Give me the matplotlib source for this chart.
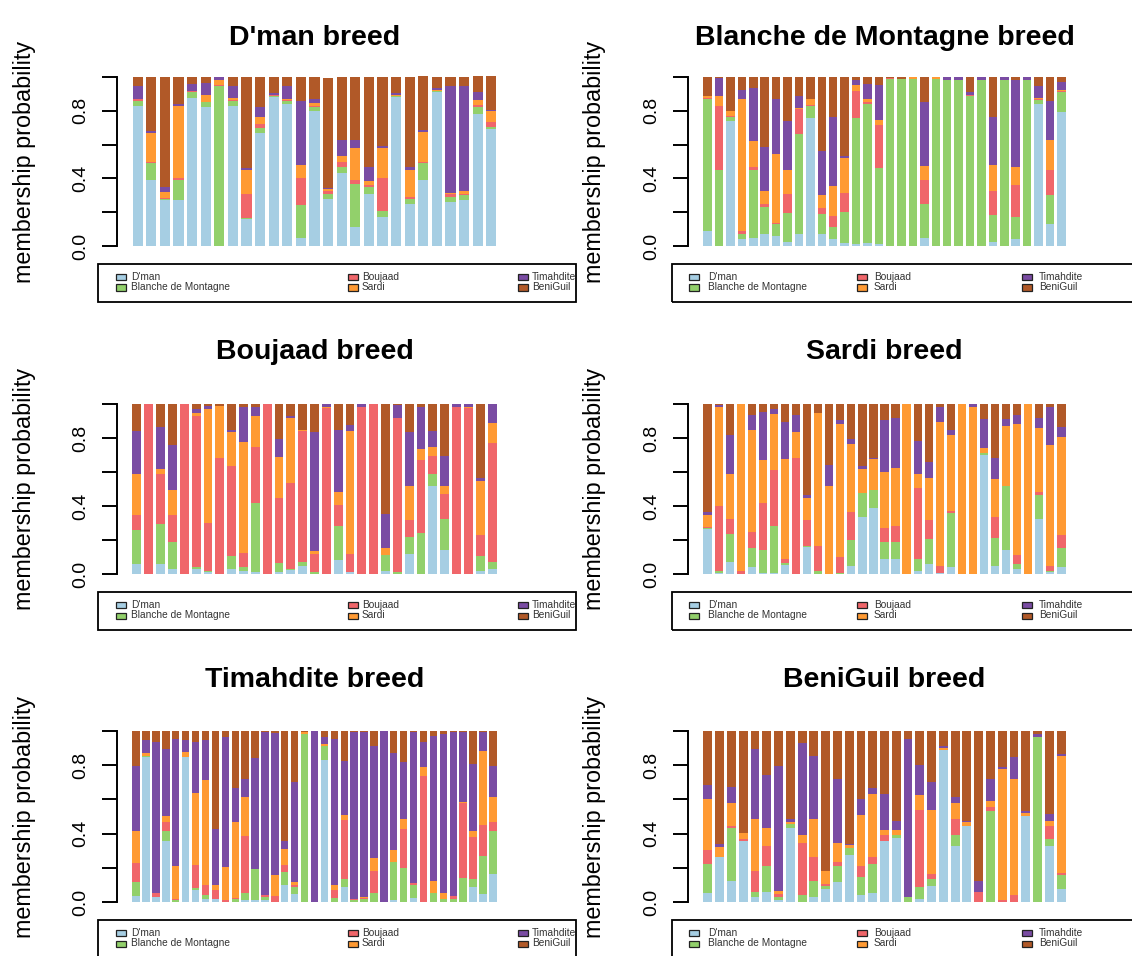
import numpy as np
import matplotlib
matplotlib.use("Agg")
import matplotlib.pyplot as plt
from matplotlib.patches import Rectangle

plt.rcParams['font.family'] = ['Liberation Sans', 'DejaVu Sans']

# ---------------- data ----------------
components = ["D'man", "Blanche de Montagne", "Boujaad", "Sardi", "Timahdite", "BeniGuil"]
colors = ["#A6CEE3", "#92D06B", "#F0666A", "#FF9A33", "#7A4CA3", "#B15928"]
titles = ["D'man breed", "Blanche de Montagne breed", "Boujaad breed",
          "Sardi breed", "Timahdite breed", "BeniGuil breed"]
ylabel_text = "membership probability"
ytick_values = [0.0, 0.2, 0.4, 0.6, 0.8, 1.0]
ytick_labels = ["0.0", "", "0.4", "", "0.8", ""]

# D'man breed (27 individuals)
dman_dman = [.83, .39, .27, .27, .875, .82, 0, .83, .16, .67, .88, .84, .05, .80, .28, .43, .115, .31, .17, .88, .25, .39, .91, .26, .27, .78, .695]
dman_blanche = [.03, .10, .01, .12, .035, .03, .945, .03, .005, .03, .008, .02, .19, .02, .03, .04, .25, .04, .04, .005, .03, .10, .008, .03, .03, .04, .008]
dman_boujaad = [.008, .01, .005, .01, .005, .005, .005, .005, .145, .02, .004, .005, .16, .008, .015, .03, .025, .01, .19, .005, .01, .005, .002, .02, .01, .015, .03]
dman_sardi = [.004, .17, .035, .43, .005, .04, .03, .01, .14, .045, .004, .005, .08, .02, .01, .035, .19, .025, .18, .005, .16, .18, .002, .005, .015, .03, .065]
dman_timahdite = [.073, .01, .03, .01, .04, .07, .02, .07, .01, .055, .01, .075, .38, .02, .01, .095, .05, .085, .01, .01, .02, .01, .015, .63, .62, .045, .005]
dman_beniguil = [.055, .32, .65, .16, .04, .035, 0, .055, .54, .18, .094, .055, .14, .13, .65, .37, .37, .53, .41, .095, .53, .32, .065, .055, .055, .096, .20]

# Blanche de Montagne breed (32 individuals)
bdm_dman = [.09, 0, .74, .04, .05, .07, .06, .025, .07, .76, .07, .04, .02, .01, .02, .01, 0, 0, 0, .05, 0, 0, 0, 0, 0, .025, 0, .04, 0, .84, .13, .79]
bdm_blanche = [.78, .45, .025, .03, .40, .16, .07, .17, .59, .07, .12, .07, .18, .75, .82, .45, .99, .99, .99, .20, .99, .985, .985, .886, .985, .16, .985, .13, .985, .025, .17, .12]
bdm_boujaad = [.005, .38, .005, .02, .02, .02, .005, .115, .15, .005, .035, .07, .115, .16, .01, .255, .005, 0, 0, .14, 0, 0, 0, .005, 0, .14, 0, .19, 0, .005, .15, .01]
bdm_sardi = [.01, .055, .03, .78, .15, .075, .41, .14, .005, .035, .075, .175, .205, .03, .02, .03, 0, 0, .01, .085, .01, 0, 0, 0, 0, .155, 0, .11, 0, .005, .18, .005]
bdm_timahdite = [.005, .11, 0, .055, .315, .26, .325, .29, .075, 0, .265, .41, .015, .035, .09, .21, 0, 0, 0, .38, 0, .015, .015, .02, .015, .285, .015, .51, .015, .07, .23, .045]
bdm_beniguil = [.11, .005, .20, .075, .065, .415, .13, .26, .11, .13, .435, .235, .465, .015, .04, .045, .005, .01, 0, .145, 0, 0, 0, .089, 0, .235, 0, .02, 0, .055, .14, .03]

# Boujaad breed (31 individuals)
bou_dman = [.06, 0, .06, .03, 0, .03, .01, 0, .03, .02, .01, 0, .01, .025, .05, 0, 0, .08, .01, 0, 0, .02, 0, .115, 0, .515, .14, 0, 0, .02, .03]
bou_blanche = [.20, 0, .235, .16, 0, .01, .01, 0, .075, .02, .41, 0, .055, .005, .02, .01, 0, .20, 0, 0, 0, .09, .01, .10, .24, .075, .185, 0, 0, .085, .04]
bou_boujaad = [.085, 1, .295, .155, 1, .89, .28, .683, .53, .085, .325, 1, .38, .505, .77, .11, .975, .125, .11, .985, 1, 0, .905, .10, .43, .105, .145, .985, .975, .125, .70]
bou_sardi = [.245, 0, .03, .15, 0, .015, .67, .307, .20, .65, .185, 0, .245, .38, .01, .015, .01, .075, .72, 0, 0, .045, 0, .20, .065, .055, .045, 0, .01, .315, .12]
bou_timahdite = [.25, 0, .245, .265, 0, .025, .02, 0, .015, .21, .05, 0, .105, .015, 0, .70, .015, .365, .035, .015, 0, .2, .08, .32, .25, .09, .18, .015, .015, .02, .11]
bou_beniguil = [.16, 0, .135, .24, 0, .03, .01, .01, .15, .015, .02, 0, .205, .07, .15, .165, 0, .155, .125, 0, 0, .645, .005, .165, .015, .16, .305, 0, 0, .435, 0]

# Sardi breed (33 individuals)
sar_dman = [.265, .005, .07, 0, .04, .005, .005, .055, 0, .16, 0, 0, 0, .05, .335, .39, .09, .09, 0, .02, .06, .005, .04, 0, 0, .70, .05, .14, .03, 0, .325, .01, .04]
sar_blanche = [.005, .015, .165, 0, .115, .135, .275, .01, 0, .005, .015, 0, .005, .15, .14, .105, .10, .10, 0, .07, .145, 0, .32, 0, 0, .01, .16, .38, .03, 0, .14, .01, .115]
sar_boujaad = [.005, .38, .09, .02, .095, .275, .33, .025, .683, .15, .15, 0, .095, .165, 0, 0, .08, .095, 0, .415, .11, .045, .01, 0, 0, 0, .125, 0, .05, 0, .02, .03, .075]
sar_sardi = [.07, .585, .265, .98, .595, .255, .33, .585, .155, .135, .785, .518, .785, .40, .14, .18, .33, .34, 1, .085, .25, .845, .45, 1, .985, .03, .225, .35, .77, 1, .375, .71, .575]
sar_timahdite = [.02, .01, .23, 0, .09, .285, .03, .22, .095, .015, 0, .126, .02, .03, .02, .01, .305, .295, 0, .19, .095, .085, .025, 0, .015, .17, .12, .04, .055, 0, .06, .22, .06]
sar_beniguil = [.635, .005, .18, 0, .065, .045, .03, .105, .067, .535, .05, .356, .095, .205, .365, .315, .095, .08, 0, .22, .34, .02, .155, 0, 0, .09, .32, .09, .065, 0, .08, .02, .135]

# Timahdite breed (37 individuals)
tim_dman = [.033, .846, .03, .354, 0, .846, .069, .016, .016, 0, 0, .01, .01, .01, 0, .098, .049, 0, 0, .831, 0, .089, 0, 0, 0, 0, .01, 0, .026, 0, 0, 0, 0, 0, .089, .049, .161]
tim_blanche = [.085, .01, 0, .059, .01, 0, .01, .023, 0, 0, .02, .045, .181, .02, 0, .075, .04, .98, 0, .084, .026, .043, .01, .02, .055, 0, .226, .197, .072, 0, .055, .02, .016, .142, .043, .221, .252]
tim_boujaad = [.108, 0, .025, .056, .01, 0, .138, .063, .053, .01, .005, .329, 0, .01, .035, .044, .013, 0, 0, 0, .043, .347, .006, .006, .128, 0, 0, .23, .014, .734, 0, 0, .017, .435, .246, .179, .055]
tim_sardi = [.187, .016, 0, .033, .193, .03, .423, .613, .033, .197, .444, .232, 0, 0, .122, .094, .016, .014, 0, .01, .03, .03, 0, .006, .073, 0, .069, .061, 0, .053, .067, .03, 0, .008, .035, .433, .148]
tim_timahdite = [.384, .073, .88, .39, .742, .069, .295, .23, .325, .758, .2, .103, .65, .955, .833, .043, .581, 0, 1, .04, .856, .313, .978, .964, .655, 1, .565, .333, .882, .148, .846, .931, .961, .409, .394, .112, .181]
tim_beniguil = [.203, .055, .065, .108, .045, .055, .065, .055, .573, .035, .331, .281, .159, .005, .01, .646, .301, .006, 0, .035, .045, .178, .006, .004, .089, 0, .13, .179, .006, .065, .032, .019, .006, .006, .193, .006, .203]

# BeniGuil breed (31 individuals)
ben_dman = [.055, .262, .124, .356, .03, .061, .012, .433, 0, .03, .075, .118, .272, .041, .055, .356, .374, 0, .016, .094, .886, .327, .443, 0, 0, 0, 0, .504, 0, .327, .075]
ben_blanche = [.167, .004, .309, 0, .031, .148, .018, .022, .039, .094, .02, .094, .045, .106, .167, 0, .016, .03, .069, .039, 0, .063, 0, 0, .531, 0, 0, 0, .965, .043, .085]
ben_boujaad = [.083, 0, .012, .014, .118, .118, .016, 0, .307, .138, .01, .02, 0, .061, .039, .033, 0, 0, .453, .033, 0, .093, 0, .061, .022, .012, .039, 0, 0, .073, .01]
ben_sardi = [.297, .055, .136, .033, .305, .106, .016, .014, .043, .222, .075, .114, .014, .299, .37, .033, .033, 0, .085, .374, .012, .098, .022, 0, .039, .768, .679, .014, 0, .031, .683]
ben_timahdite = [.083, .016, .094, 0, .413, .307, .732, .014, .541, .372, 0, .372, .01, .094, .033, .209, .049, .921, .177, .163, .014, .031, .01, .063, .126, .01, .128, .014, .02, .039, .014]
ben_beniguil = [.315, .663, .325, .597, .102, .26, .207, .518, .069, .144, .821, .281, .659, .398, .335, .368, .528, .049, .201, .295, .089, .388, .526, .876, .281, .211, .154, .469, .016, .486, .134]

panels = [
    [dman_dman, dman_blanche, dman_boujaad, dman_sardi, dman_timahdite, dman_beniguil],
    [bdm_dman, bdm_blanche, bdm_boujaad, bdm_sardi, bdm_timahdite, bdm_beniguil],
    [bou_dman, bou_blanche, bou_boujaad, bou_sardi, bou_timahdite, bou_beniguil],
    [sar_dman, sar_blanche, sar_boujaad, sar_sardi, sar_timahdite, sar_beniguil],
    [tim_dman, tim_blanche, tim_boujaad, tim_sardi, tim_timahdite, tim_beniguil],
    [ben_dman, ben_blanche, ben_boujaad, ben_sardi, ben_timahdite, ben_beniguil],
]

# ---------------- layout (pixels) ----------------
W, H = 1132, 956
fig = plt.figure(figsize=(W / 100, H / 100), dpi=100)
fig.patch.set_facecolor("white")

bar_x0 = [132, 703]
bar_x1 = [497, 1066]
y_zero = [246, 574, 902]
y_one = [77, 404, 731]
title_y = [38, 352, 680]
ylab_x = [25, 594]
legend_box_x = [(98, 576), (672, 1145)]
legend_box_top = [264, 592, 920]
legend_patch_x = [[116, 348, 518], [689, 857, 1022]]
legend_text_x = [[131, 362, 532], [708, 874, 1039]]


def fx(x):
    return x / W


def fy(y):
    return 1 - y / H


for k, series in enumerate(panels):
    row, col = k // 2, k % 2
    x0, x1 = bar_x0[col], bar_x1[col]
    span = x1 - x0
    left_px, right_px = x0 - 0.04 * span, x1 + 0.04 * span
    hgt = y_zero[row] - y_one[row]
    bot_px, top_px = y_zero[row] + 0.04 * hgt, y_one[row] - 0.04 * hgt
    ax = fig.add_axes([fx(left_px), fy(bot_px), (right_px - left_px) / W, (bot_px - top_px) / H])

    n = len(series[0])
    D = 1.2 * n - 0.2
    ax.set_xlim(0.2 - 0.04 * D, 1.2 * n + 0.04 * D)
    ax.set_ylim(-0.04, 1.04)
    xpos = 0.7 + 1.2 * np.arange(n)
    bottom = np.zeros(n)
    for vals, c in zip(series, colors):
        v = np.asarray(vals, dtype=float)
        ax.bar(xpos, v, width=0.9, bottom=bottom, align="center", color=c,
               edgecolor="none", linewidth=0)
        bottom += v

    for s in ["top", "right", "bottom"]:
        ax.spines[s].set_visible(False)
    ax.spines["left"].set_bounds(0, 1)
    ax.spines["left"].set_linewidth(1.4)
    ax.set_xticks([])
    ax.set_yticks(ytick_values)
    ax.set_yticklabels(ytick_labels, rotation=90, va="center", fontsize=14)
    ax.tick_params(axis="y", length=11, width=1.4, pad=9)
    ax.set_facecolor("none")

    # title
    fig.text(fx((left_px + right_px) / 2), fy(title_y[row]), titles[k],
             ha="center", va="center", fontsize=20.5, fontweight="bold")
    # y label
    fig.text(fx(ylab_x[col]), fy((bot_px + top_px) / 2), ylabel_text,
             rotation=90, ha="center", va="center", fontsize=16.8)

    # legend
    lx0, lx1 = legend_box_x[col]
    ly0 = legend_box_top[row]
    ly1 = ly0 + 38
    fig.add_artist(Rectangle((fx(lx0), fy(ly1)), (lx1 - lx0) / W, (ly1 - ly0) / H,
                             transform=fig.transFigure, fill=False,
                             edgecolor="black", linewidth=1.3))
    for i, (name, c) in enumerate(zip(components, colors)):
        cc, rr = i // 2, i % 2
        yc = ly0 + 13 + rr * 10.5
        px = legend_patch_x[col][cc]
        fig.add_artist(Rectangle((fx(px), fy(yc + 3)), 10 / W, 6 / H,
                                 transform=fig.transFigure, facecolor=c,
                                 edgecolor="#222222", linewidth=0.9))
        fig.text(fx(legend_text_x[col][cc]), fy(yc), name, ha="left", va="center",
                 fontsize=7.3, color="#333333")

fig.savefig("out.png", dpi=100)
